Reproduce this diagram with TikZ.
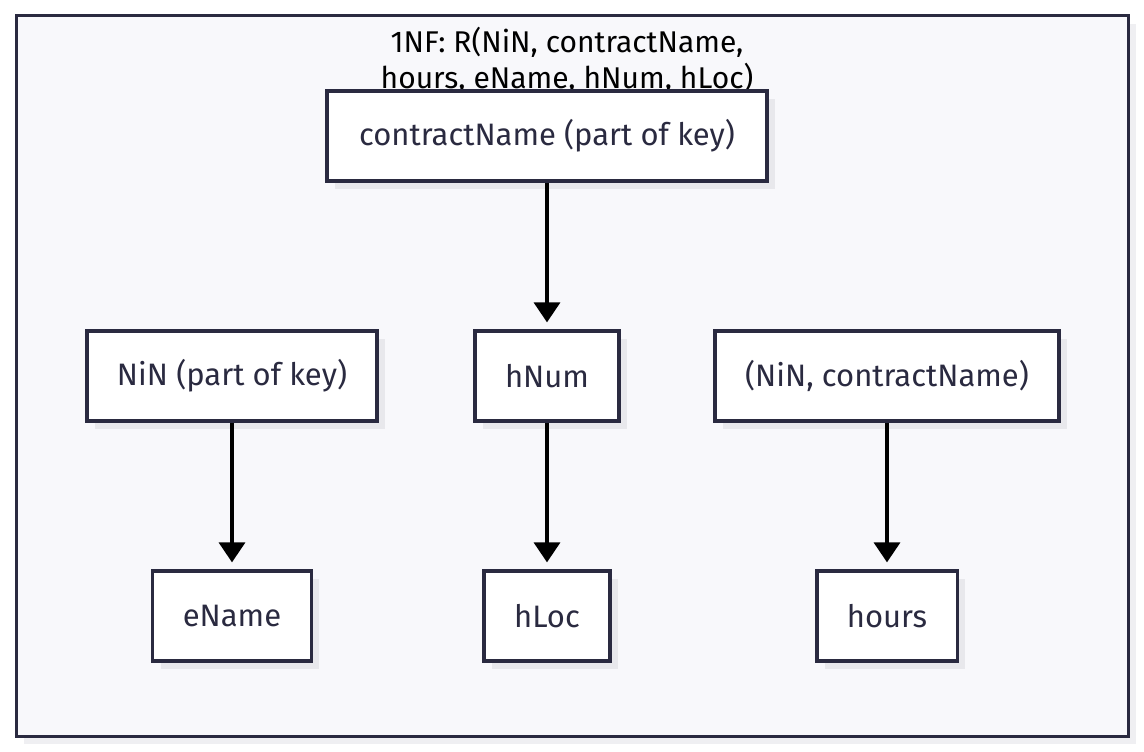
\documentclass[tikz,border=0pt]{standalone}
\usepackage{fontspec}
\setmainfont{Fira Sans}
\usepackage{tikz}
\usetikzlibrary{positioning}
\usetikzlibrary{arrows.meta}
\usetikzlibrary{shadows}

\definecolor{boxline}{HTML}{2A2A40}
\definecolor{boxtext}{HTML}{2A2A40}
\definecolor{panel}{HTML}{F8F8FB}
\definecolor{shade}{HTML}{E8E8EC}

\begin{document}
\begin{tikzpicture}[x=1pt,y=-1pt,
              box/.style={draw=boxline,line width=3.3pt,fill=white,
                minimum height=90pt,inner xsep=30pt,
                font=\fontsize{31}{36}\selectfont,text=boxtext,
                general shadow={fill=shade,shadow xshift=8pt,shadow yshift=-8pt}},
              dep/.style={line width=3.6pt,-{Triangle[width=26pt,length=20pt]},shorten >=7pt}]
              \useasboundingbox (0,0) rectangle (1144,752);
              \draw[draw=boxline,line width=3pt,fill=panel,
                general shadow={fill=shade!70,shadow xshift=8pt,shadow yshift=-8pt}]
                (16,16) rectangle (1128,736);
              \node[align=center,font=\fontsize{30}{36}\selectfont] (title) at (567,60)
                {1NF: R(NiN, contractName,\\hours, eName, hNum, hLoc)};
              \node[box,minimum width=440pt] (contract) at (547,136) {contractName (part of key)};
              \node[box] (hnum) at (547,376) {hNum};
              \node[box] (nin) at (232,376) {NiN (part of key)};
              \node[box] (pair) at (887,376) {(NiN, contractName)};
              \node[box] (ename) at (232,616) {eName};
              \node[box] (hloc) at (547,616) {hLoc};
              \node[box] (hours) at (887,616) {hours};
              \draw[dep] (contract) -- (hnum);
              \draw[dep] (nin) -- (ename);
              \draw[dep] (hnum) -- (hloc);
              \draw[dep] (pair) -- (hours);
            \end{tikzpicture}
\end{document}
